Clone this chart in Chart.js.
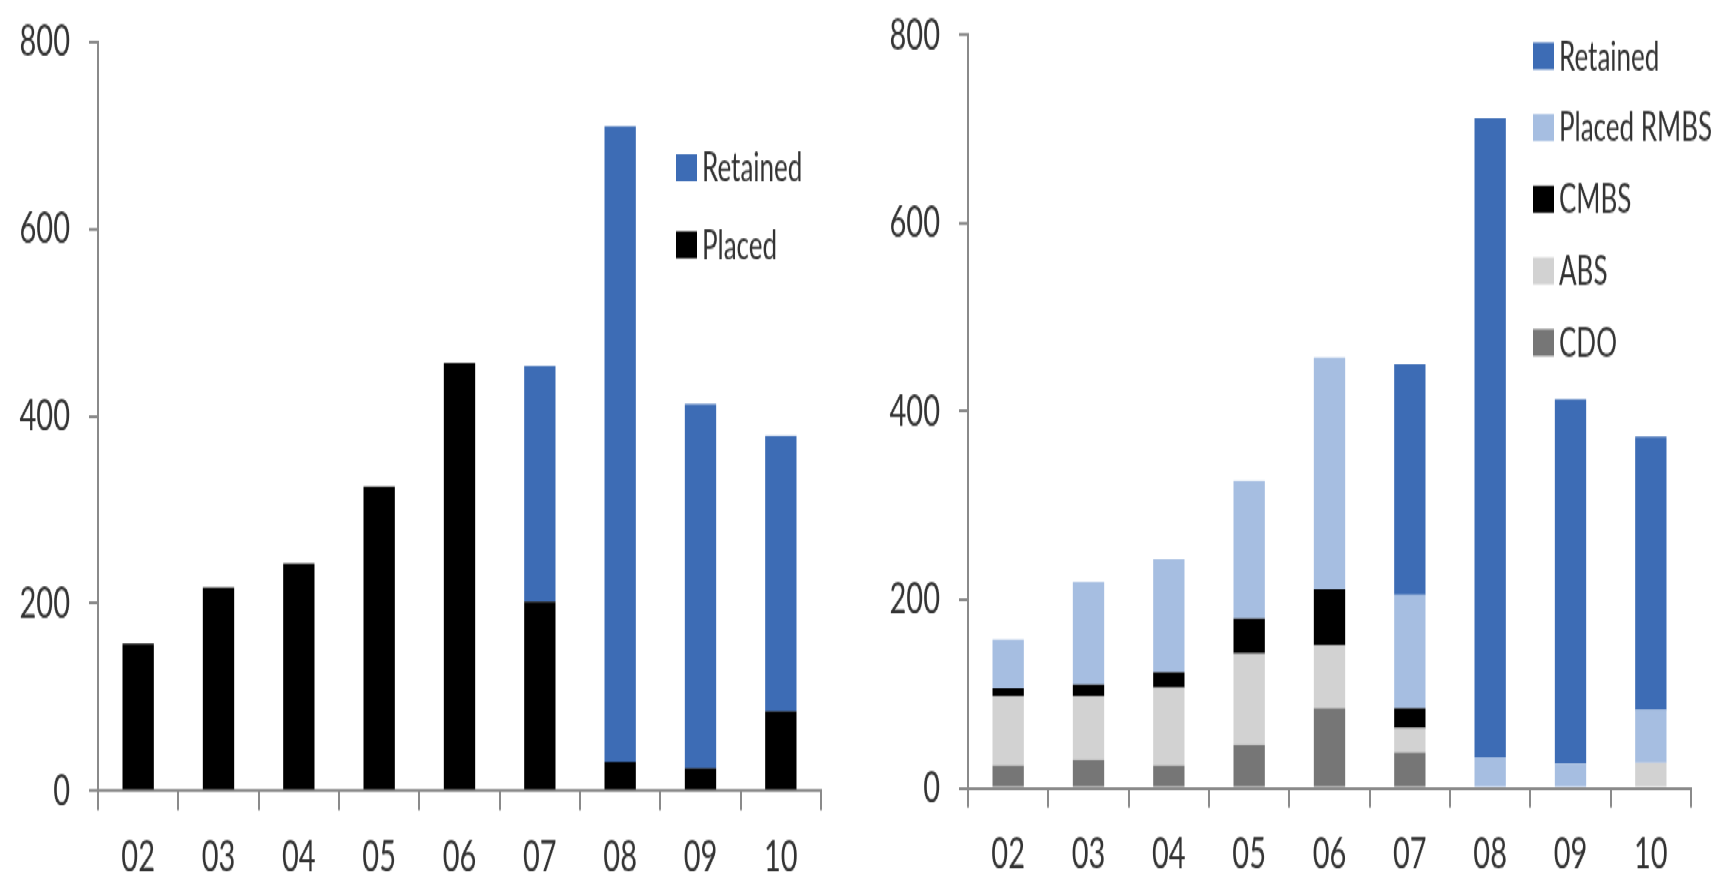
<!DOCTYPE html>
<html>
<head>
<meta charset="utf-8">
<script src="https://cdn.jsdelivr.net/npm/chart.js@4.4.1/dist/chart.umd.min.js"></script>
<style>
  html, body { margin: 0; padding: 0; background: #fff; overflow: hidden; }
  /* the source picture is stretched vertically, so draw flat and stretch */
  #stage { position: absolute; left: 0; top: 0; width: 1722px; height: 586px; transform: scaleY(1.5); transform-origin: 0 0; }
  .panel { position: absolute; top: 0; width: 861px; height: 586px; }
  #leftPanel { left: 0; }
  #rightPanel { left: 861px; }
</style>
</head>
<body>
<div id="stage">
  <div class="panel" id="leftPanel"><canvas id="leftChart"></canvas></div>
  <div class="panel" id="rightPanel"><canvas id="rightChart"></canvas></div>
</div>
<script>
const years = ['02', '03', '04', '05', '06', '07', '08', '09', '10'];
const yTicks = [0, 200, 400, 600, 800];

// left panel
const placedTotal = [157, 217, 243, 325, 457, 202, 31, 24, 85];
const retainedTotal = [null, null, null, null, null, 252, 679, 389, 294];

// right panel (bottom to top)
const cdo = [24, 30, 24, 46, 85, 38, null, null, null];
const abs = [74, 68, 83, 97, 67, 26, null, null, 27];
const cmbs = [8, 12, 16, 37, 59, 21, null, null, null];
const placedRmbs = [52, 109, 120, 146, 246, 120, 33, 26, 56];
const retained = [null, null, null, null, null, 245, 678, 387, 290];

const BLUE = '#3d6cb5';
const LIGHT_BLUE = '#a6bee1';
const ABS_GREY = '#d2d2d2';
const CDO_GREY = '#767676';
const AXIS = '#8a8a8a';
const TEXT = '#333333';
const FONT = 'Lato, "Open Sans", sans-serif';

// legend drawn inside the plot, top entry = top of the stack
const stackLegend = {
    id: 'stackLegend',
    afterDraw(chart, args, opts) {
        const ctx = chart.ctx;
        const sets = chart.data.datasets.slice().reverse();
        ctx.save();
        ctx.font = '26px ' + FONT;
        ctx.textBaseline = 'middle';
        sets.forEach((ds, i) => {
            const cy = opts.y + i * opts.step;
            ctx.fillStyle = ds.backgroundColor;
            ctx.fillRect(opts.x, cy - 9, 21, 18);
            ctx.fillStyle = TEXT;
            ctx.fillText(ds.label, opts.x + 26, cy + 1);
        });
        ctx.restore();
    }
};

function makeOptions(cfg) {
    return {
        responsive: true,
        maintainAspectRatio: false,
        animation: false,
        layout: { padding: { top: cfg.top, right: cfg.right, bottom: 0, left: 0 } },
        plugins: {
            legend: { display: false },
            tooltip: { enabled: false },
            stackLegend: cfg.legend
        },
        scales: {
            x: {
                stacked: true,
                grid: { drawOnChartArea: false, offset: true, color: AXIS, lineWidth: 2, tickLength: 13 },
                border: { color: AXIS, width: 2 },
                ticks: { color: TEXT, font: { family: FONT, size: 29 }, padding: 14, maxRotation: 0 },
                afterFit: s => { s.height = cfg.xAxisH; }
            },
            y: {
                stacked: true,
                min: 0,
                max: 800,
                grid: { drawOnChartArea: false, color: AXIS, lineWidth: 2, tickLength: 9 },
                border: { color: AXIS, width: 2 },
                ticks: { color: TEXT, font: { family: FONT, size: 29 }, padding: 19 },
                afterBuildTicks: s => { s.ticks = yTicks.map(v => ({ value: v })); },
                afterFit: s => {
                    s.width = cfg.yAxisW;
                    s.paddingTop = 0;
                    s.paddingBottom = 0;
                }
            }
        }
    };
}

const barStyle = { barPercentage: 0.39, categoryPercentage: 1, borderWidth: 0 };

new Chart(document.getElementById('leftChart').getContext('2d'), {
    type: 'bar',
    data: {
        labels: years,
        datasets: [
            { label: 'Placed', data: placedTotal, backgroundColor: '#000000', ...barStyle },
            { label: 'Retained', data: retainedTotal, backgroundColor: BLUE, ...barStyle }
        ]
    },
    options: makeOptions({ top: 28, right: 40, xAxisH: 58.7, yAxisW: 98, legend: { x: 676, y: 112, step: 51.3 } }),
    plugins: [stackLegend]
});

new Chart(document.getElementById('rightChart').getContext('2d'), {
    type: 'bar',
    data: {
        labels: years,
        datasets: [
            { label: 'CDO', data: cdo, backgroundColor: CDO_GREY, ...barStyle },
            { label: 'ABS', data: abs, backgroundColor: ABS_GREY, ...barStyle },
            { label: 'CMBS', data: cmbs, backgroundColor: '#000000', ...barStyle },
            { label: 'Placed RMBS', data: placedRmbs, backgroundColor: LIGHT_BLUE, ...barStyle },
            { label: 'Retained', data: retained, backgroundColor: BLUE, ...barStyle }
        ]
    },
    options: makeOptions({ top: 23.2, right: 31, xAxisH: 60.4, yAxisW: 107, legend: { x: 672, y: 37.3, step: 47.8 } }),
    plugins: [stackLegend]
});
</script>
</body>
</html>
